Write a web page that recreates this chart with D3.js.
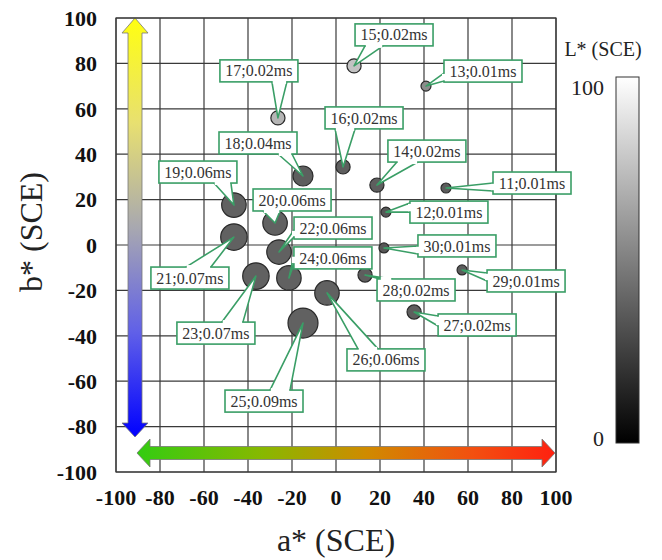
<!DOCTYPE html>
<html>
<head>
<meta charset="utf-8">
<script src="https://cdn.jsdelivr.net/npm/d3@7/dist/d3.min.js"></script>
<style>
  body { margin: 0; background: #fff; }
  svg text { font-family: "Liberation Serif", "Times New Roman", serif; }
</style>
</head>
<body>
<div id="vis-container"></div>
<script>
// Data: id, a*, b*, L* and time of each colour
var ids   = [11, 12, 13, 14, 15, 16, 17, 18, 19, 20, 21, 22, 23, 24, 25, 26, 27, 28, 29, 30]
var aVals = [50, 22.7, 40.9, 18.6, 8.2, 3.2, -26.4, -15, -46.4, -27.7, -46.4, -25.9, -36.4, -21.4, -15, -4.1, 35.5, 13.2, 57.3, 21.8]
var bVals = [25.1, 14.5, 70, 26.4, 78.9, 34.4, 56, 30.4, 17.6, 9.7, 3.5, -3.1, -13.7, -14.5, -34.4, -21.1, -29.5, -13.2, -11, -1.3]
var lVals = [36, 34, 55, 37, 76, 37, 71, 37, 38, 38, 38, 38, 38, 38, 38, 38, 37, 37, 36, 34]
var times = [0.01, 0.01, 0.01, 0.02, 0.02, 0.02, 0.02, 0.04, 0.06, 0.06, 0.07, 0.06, 0.07, 0.06, 0.09, 0.06, 0.02, 0.02, 0.01, 0.01]

var axisTicks = [-100, -80, -60, -40, -20, 0, 20, 40, 60, 80, 100]
var lTicks = [0, 100]

// label box layout: [dx, dy] of the box from its point, side where the pointer leaves, pointer base
var labelLayout = [
  [47, -16, 'left', 11, 19],   // 11
  [24, -11, 'left', 2, 11],    // 12
  [18, -26, 'left', 13, 21],   // 13
  [11, -45, 'bottom', 9, 30],  // 14
  [1, -42, 'bottom', 10, 28],  // 15
  [-18, -60, 'bottom', 10, 30],// 16
  [-58, -58, 'bottom', 52, 67],// 17
  [-84, -44, 'bottom', 59, 73],// 18
  [-75, -44, 'bottom', 55, 72],// 19
  [-22, -34, 'bottom', 10, 27],// 20
  [-83, 30, 'top', 35, 60],    // 21
  [15, -35, 'left', 13, 20],   // 22
  [-79, 46, 'top', 45, 66],    // 23
  [5, -31, 'left', 9, 17],     // 24
  [-78, 67, 'top', 45, 65],    // 25
  [20, 56, 'top', 11, 31],     // 26
  [24, 2, 'left', 2, 12],      // 27
  [12, 4, 'top', 3, 15],       // 28
  [25, 0, 'left', 3, 11],      // 29
  [34, -13, 'left', 11, 19]    // 30
]

var data = ids.map(function (id, i) {
  return { id: id, a: aVals[i], b: bVals[i], L: lVals[i], t: times[i], lay: labelLayout[i] }
})

var W = 662, H = 560
var pLeft = 116, pTop = 18, pRight = 556, pBottom = 472
var green = '#3a9e66'

var svg = d3.select('#vis-container').append('svg')
  .attr('width', W)
  .attr('height', H)

var defs = svg.append('defs')

// Scales
var xScale = d3.scaleLinear().domain([-100, 100]).range([pLeft, pRight])
var yScale = d3.scaleLinear().domain([-100, 100]).range([pBottom, pTop])
var rScale = d3.scaleSqrt().domain([0, 0.09]).range([0, 15])
var lScale = d3.scaleLinear().domain([0, 100]).range(['#000000', '#ffffff'])

// Grid
var grid = svg.append('g')
grid.selectAll('.vline')
  .data(axisTicks)
  .enter()
  .append('line')
  .attr('x1', function (d) { return xScale(d) })
  .attr('x2', function (d) { return xScale(d) })
  .attr('y1', pTop)
  .attr('y2', pBottom)
  .attr('stroke', '#3a3a3a')
  .attr('stroke-width', 1.2)
grid.selectAll('.hline')
  .data(axisTicks)
  .enter()
  .append('line')
  .attr('y1', function (d) { return yScale(d) })
  .attr('y2', function (d) { return yScale(d) })
  .attr('x1', pLeft)
  .attr('x2', pRight)
  .attr('stroke', '#3a3a3a')
  .attr('stroke-width', 1.2)

// Tick labels
svg.append('g').selectAll('text')
  .data(axisTicks)
  .enter()
  .append('text')
  .attr('x', 97)
  .attr('y', function (d) { return yScale(d) })
  .attr('dy', '0.35em')
  .attr('text-anchor', 'end')
  .style('font-size', '22px')
  .style('font-weight', 'bold')
  .attr('fill', '#111')
  .text(function (d) { return d })

svg.append('g').selectAll('text')
  .data(axisTicks)
  .enter()
  .append('text')
  .attr('x', function (d) { return xScale(d) })
  .attr('y', 497)
  .attr('dy', '0.35em')
  .attr('text-anchor', 'middle')
  .style('font-size', '22px')
  .style('font-weight', 'bold')
  .attr('fill', '#111')
  .text(function (d) { return d })

// Axis titles
svg.append('text')
  .attr('x', 336)
  .attr('y', 540)
  .attr('dy', '0.35em')
  .attr('text-anchor', 'middle')
  .style('font-size', '32px')
  .attr('fill', '#222')
  .text('a* (SCE)')

svg.append('text')
  .attr('transform', 'translate(31,232) rotate(-90)')
  .attr('dy', '0.35em')
  .attr('text-anchor', 'middle')
  .style('font-size', '32px')
  .attr('fill', '#222')
  .text('b* (SCE)')

// Colour arrows
var vGrad = defs.append('linearGradient')
  .attr('id', 'vgrad')
  .attr('gradientUnits', 'userSpaceOnUse')
  .attr('x1', 0).attr('y1', pTop).attr('x2', 0).attr('y2', 437)
vGrad.append('stop').attr('offset', '0%').attr('stop-color', '#ffff10')
vGrad.append('stop').attr('offset', '25%').attr('stop-color', '#e8e070')
vGrad.append('stop').attr('offset', '50%').attr('stop-color', '#a8a8b0')
vGrad.append('stop').attr('offset', '75%').attr('stop-color', '#6060e8')
vGrad.append('stop').attr('offset', '100%').attr('stop-color', '#0000ff')

var hGrad = defs.append('linearGradient')
  .attr('id', 'hgrad')
  .attr('gradientUnits', 'userSpaceOnUse')
  .attr('x1', 137).attr('y1', 0).attr('x2', pRight).attr('y2', 0)
hGrad.append('stop').attr('offset', '0%').attr('stop-color', '#33cc11')
hGrad.append('stop').attr('offset', '30%').attr('stop-color', '#88b800')
hGrad.append('stop').attr('offset', '55%').attr('stop-color', '#d08a00')
hGrad.append('stop').attr('offset', '80%').attr('stop-color', '#f25010')
hGrad.append('stop').attr('offset', '100%').attr('stop-color', '#ff2010')

var vx = 135, vt = pTop, vb = 437
svg.append('path')
  .attr('d', 'M' + vx + ',' + vt + 'L' + (vx + 13) + ',' + (vt + 15) + 'L' + (vx + 7) + ',' + (vt + 15) +
    'L' + (vx + 7) + ',' + (vb - 14) + 'L' + (vx + 13) + ',' + (vb - 14) + 'L' + vx + ',' + vb +
    'L' + (vx - 13) + ',' + (vb - 14) + 'L' + (vx - 7) + ',' + (vb - 14) + 'L' + (vx - 7) + ',' + (vt + 15) +
    'L' + (vx - 13) + ',' + (vt + 15) + 'Z')
  .attr('fill', 'url(#vgrad)')
  .attr('stroke', '#777')
  .attr('stroke-width', 0.8)

var hy = 453, hl = 137, hr = 555
svg.append('path')
  .attr('d', 'M' + hl + ',' + hy + 'L' + (hl + 13) + ',' + (hy - 14) + 'L' + (hl + 13) + ',' + (hy - 6.5) +
    'L' + (hr - 13) + ',' + (hy - 6.5) + 'L' + (hr - 13) + ',' + (hy - 14) + 'L' + hr + ',' + hy +
    'L' + (hr - 13) + ',' + (hy + 14) + 'L' + (hr - 13) + ',' + (hy + 6.5) + 'L' + (hl + 13) + ',' + (hy + 6.5) +
    'L' + (hl + 13) + ',' + (hy + 14) + 'Z')
  .attr('fill', 'url(#hgrad)')
  .attr('stroke', '#777')
  .attr('stroke-width', 0.8)

// Plot border
svg.append('rect')
  .attr('x', pLeft).attr('y', pTop)
  .attr('width', pRight - pLeft).attr('height', pBottom - pTop)
  .attr('fill', 'none')
  .attr('stroke', '#3a3a3a')
  .attr('stroke-width', 1.2)

// Circles
svg.append('g').selectAll('circle')
  .data(data)
  .enter()
  .append('circle')
  .attr('cx', function (d) { return xScale(d.a) })
  .attr('cy', function (d) { return yScale(d.b) })
  .attr('r', function (d) { return rScale(d.t) })
  .attr('fill', function (d) { return lScale(d.L) })
  .attr('stroke', '#2a2a2a')
  .attr('stroke-width', 1.2)

// Callout labels
var bw = 78, bh = 22
function basePoints(d) {
  var px = xScale(d.a), py = yScale(d.b)
  var bx = px + d.lay[0], by = py + d.lay[1]
  var side = d.lay[2], b0 = d.lay[3], b1 = d.lay[4]
  if (side == 'left') return [[bx, by + b0], [bx, by + b1], bx, by, px, py]
  if (side == 'top') return [[bx + b0, by], [bx + b1, by], bx, by, px, py]
  return [[bx + b0, by + bh], [bx + b1, by + bh], bx, by, px, py]
}

var labels = svg.append('g').selectAll('g')
  .data(data)
  .enter()
  .append('g')

labels.append('path')
  .attr('d', function (d) {
    var p = basePoints(d)
    return 'M' + p[0][0] + ',' + p[0][1] + 'L' + p[4] + ',' + p[5] + 'L' + p[1][0] + ',' + p[1][1] + 'Z'
  })
  .attr('fill', '#fff')
  .attr('stroke', green)
  .attr('stroke-width', 1.6)
  .attr('stroke-linejoin', 'round')

labels.append('rect')
  .attr('x', function (d) { return basePoints(d)[2] })
  .attr('y', function (d) { return basePoints(d)[3] })
  .attr('width', bw)
  .attr('height', bh)
  .attr('fill', '#fff')
  .attr('stroke', green)
  .attr('stroke-width', 1.6)

// cover the box border where the pointer joins it
labels.append('path')
  .attr('d', function (d) {
    var p = basePoints(d)
    var side = d.lay[2]
    var a = p[0].slice(), b = p[1].slice()
    var ia, ib
    if (side == 'left') { ia = [a[0] + 2, a[1] + 0.8]; ib = [b[0] + 2, b[1] - 0.8]; a[0] -= 2; b[0] -= 2; a[1] += 0.8; b[1] -= 0.8 }
    else if (side == 'top') { ia = [a[0] + 0.8, a[1] + 2]; ib = [b[0] - 0.8, b[1] + 2]; a[1] -= 2; b[1] -= 2; a[0] += 0.8; b[0] -= 0.8 }
    else { ia = [a[0] + 0.8, a[1] - 2]; ib = [b[0] - 0.8, b[1] - 2]; a[1] += 2; b[1] += 2; a[0] += 0.8; b[0] -= 0.8 }
    return 'M' + ia + 'L' + a + 'L' + b + 'L' + ib + 'Z'
  })
  .attr('fill', '#fff')

labels.append('text')
  .attr('x', function (d) { return basePoints(d)[2] + bw / 2 })
  .attr('y', function (d) { return basePoints(d)[3] + bh / 2 })
  .attr('dy', '0.35em')
  .attr('text-anchor', 'middle')
  .style('font-size', '16px')
  .attr('fill', '#333')
  .text(function (d) { return d.id + ';' + d.t.toFixed(2) + 'ms' })

// Colour bar for L*
var cGrad = defs.append('linearGradient')
  .attr('id', 'cgrad')
  .attr('x1', 0).attr('y1', 0).attr('x2', 0).attr('y2', 1)
cGrad.append('stop').attr('offset', '0%').attr('stop-color', lScale(100))
cGrad.append('stop').attr('offset', '100%').attr('stop-color', lScale(0))

var cbScale = d3.scaleLinear().domain([0, 100]).range([443, 77])
svg.append('rect')
  .attr('x', 616)
  .attr('y', cbScale(100))
  .attr('width', 23)
  .attr('height', cbScale(0) - cbScale(100))
  .attr('fill', 'url(#cgrad)')
  .attr('stroke', '#333')
  .attr('stroke-width', 1)

svg.append('g').selectAll('text')
  .data(lTicks)
  .enter()
  .append('text')
  .attr('x', 604)
  .attr('y', function (d) { return cbScale(d) + (d == 100 ? 10 : -5) })
  .attr('dy', '0.35em')
  .attr('text-anchor', 'end')
  .style('font-size', '22px')
  .attr('fill', '#222')
  .text(function (d) { return d })

svg.append('text')
  .attr('x', 603)
  .attr('y', 49)
  .attr('dy', '0.35em')
  .attr('text-anchor', 'middle')
  .style('font-size', '20px')
  .attr('fill', '#222')
  .text('L* (SCE)')
</script>
</body>
</html>
